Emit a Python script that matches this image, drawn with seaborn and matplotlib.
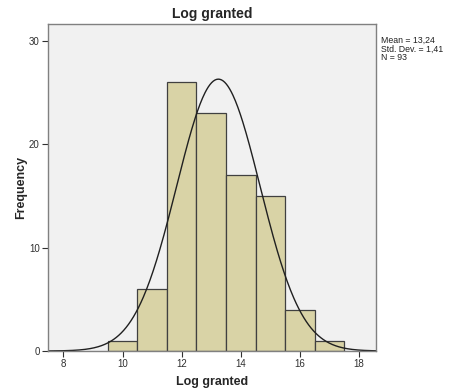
import numpy as np
import pandas as pd
import matplotlib
matplotlib.use("Agg")
import matplotlib.pyplot as plt
import seaborn as sns

# Data
bin_centers = [10, 11, 12, 13, 14, 15, 16, 17]
counts = [1, 6, 26, 23, 17, 15, 4, 1]
bin_width = 1.0
mean_val = 13.24
std_val = 1.41
n_val = 93
x_ticks = [8, 10, 12, 14, 16, 18]
y_ticks = [0, 10, 20, 30]

sns.set_style("white")
plt.rcParams['font.family'] = ['Liberation Sans', 'DejaVu Sans']

fig = plt.figure(figsize=(4.52, 3.92), dpi=100)
ax = fig.add_axes([48/452, 1-351/392, (376-48)/452, (351-24)/392])
ax.set_facecolor('#F1F1F1')

df = pd.DataFrame({"x": bin_centers, "w": counts})
lo = min(bin_centers) - bin_width/2
hi = max(bin_centers) + bin_width/2
sns.histplot(data=df, x="x", weights="w", binwidth=bin_width, binrange=(lo, hi), ax=ax,
             color='#D9D3A6', alpha=1, edgecolor='#404040', linewidth=0.9)

xs = np.linspace(7.48, 18.57, 400)
ys = n_val * bin_width / (std_val * np.sqrt(2*np.pi)) * np.exp(-0.5*((xs-mean_val)/std_val)**2)
sns.lineplot(x=xs, y=ys, ax=ax, color='#202020', linewidth=1.0)

ax.set_xlim(7.48, 18.57)
ax.set_ylim(0, 31.65)
ax.set_xticks(x_ticks)
ax.set_yticks(y_ticks)
ax.tick_params(axis='both', direction='out', length=4, width=0.8, labelsize=7,
               colors='#303030', bottom=True, left=True, pad=2)
for s in ax.spines.values():
    s.set_color('#808080')
    s.set_linewidth(1.0)

ax.set_xlabel("Log granted", fontsize=9, fontweight='bold', labelpad=5)
ax.set_ylabel("Frequency", fontsize=9, fontweight='bold', labelpad=1)
ax.set_title("Log granted", fontsize=10, fontweight='bold', pad=4)

fig.text(381/452, 1-49/392, "Mean = 13,24\nStd. Dev. = 1,41\nN = 93",
         fontsize=6.3, va='center', ha='left', color='#202020', linespacing=0.95)

fig.savefig("out.png", dpi=100, facecolor='white')
